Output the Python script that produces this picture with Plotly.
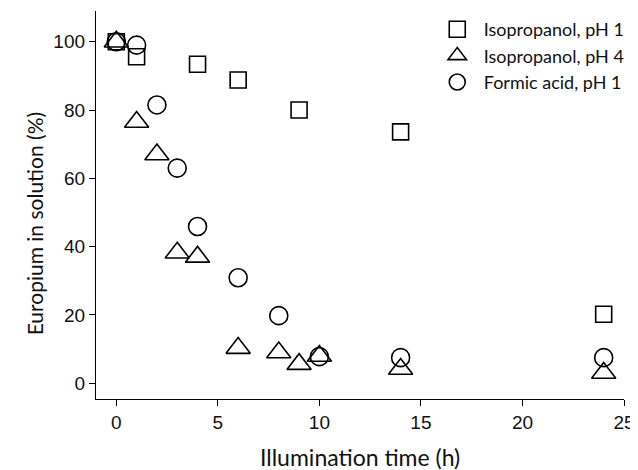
import plotly.graph_objects as go

# Isopropanol, pH 1
t_ipa1 = [0, 1, 4, 6, 9, 14, 24]
eu_ipa1 = [100, 95.6, 93.4, 88.8, 80, 73.6, 20.2]

# Isopropanol, pH 4
t_ipa4 = [0, 1, 2, 3, 4, 6, 8, 9, 10, 14, 24]
eu_ipa4 = [100, 76.5, 67, 38.2, 37, 10.3, 9, 5.6, 8, 4.2, 3]

# Formic acid, pH 1
t_fa1 = [0, 1, 2, 3, 4, 6, 8, 10, 14, 24]
eu_fa1 = [100, 99, 81.5, 63, 45.9, 30.9, 19.8, 7.8, 7.5, 7.5]

x_ticks = [0, 5, 10, 15, 20, 25]
y_ticks = [0, 20, 40, 60, 80, 100]

TEXT_FONT = "Lato"
TICK_FONT = "Liberation Sans"

fig = go.Figure()
mk_line = dict(color="black", width=1.6)
fig.add_trace(go.Scatter(x=t_ipa1, y=eu_ipa1, mode="markers", name="Isopropanol, pH 1",
                         marker=dict(symbol="square-open", size=16, color="black", line=mk_line)))
fig.add_trace(go.Scatter(x=t_ipa4, y=eu_ipa4, mode="markers", name="Isopropanol, pH 4",
                         marker=dict(symbol="triangle-up-open", size=21, color="black", line=mk_line)))
fig.add_trace(go.Scatter(x=t_fa1, y=eu_fa1, mode="markers", name="Formic acid, pH 1",
                         marker=dict(symbol="circle-open", size=18, color="black", line=mk_line)))

axis_common = dict(showgrid=False, zeroline=False, showline=True, linecolor="black", linewidth=1.3,
                   ticks="outside", ticklen=6, tickwidth=1.3, tickcolor="black",
                   tickfont=dict(family=TICK_FONT, size=19, color="#111"))
fig.update_xaxes(range=[-1, 25], tickvals=x_ticks, **axis_common)
fig.update_yaxes(range=[-4.6, 109], tickvals=y_ticks, **axis_common)

fig.add_annotation(text="Illumination time (h)", xref="paper", yref="paper", x=0.5, y=-0.108,
                   xanchor="center", yanchor="top", showarrow=False,
                   font=dict(family=TEXT_FONT, size=23, color="#111"))
fig.add_annotation(text="Europium in solution (%)", xref="paper", yref="y", x=-0.117, y=46.6,
                   xanchor="center", yanchor="middle", textangle=-90, showarrow=False,
                   font=dict(family=TEXT_FONT, size=21, color="#111"))

fig.update_layout(
    width=630, height=462,
    margin=dict(l=88, r=14, t=3, b=71),
    paper_bgcolor="white", plot_bgcolor="white",
    showlegend=True,
    legend=dict(x=0.634, y=1.0, xanchor="left", yanchor="top", bgcolor="rgba(0,0,0,0)",
                font=dict(family=TEXT_FONT, size=18, color="#111"), itemwidth=43,
                tracegroupgap=0),
)

fig.write_html("out.html")
